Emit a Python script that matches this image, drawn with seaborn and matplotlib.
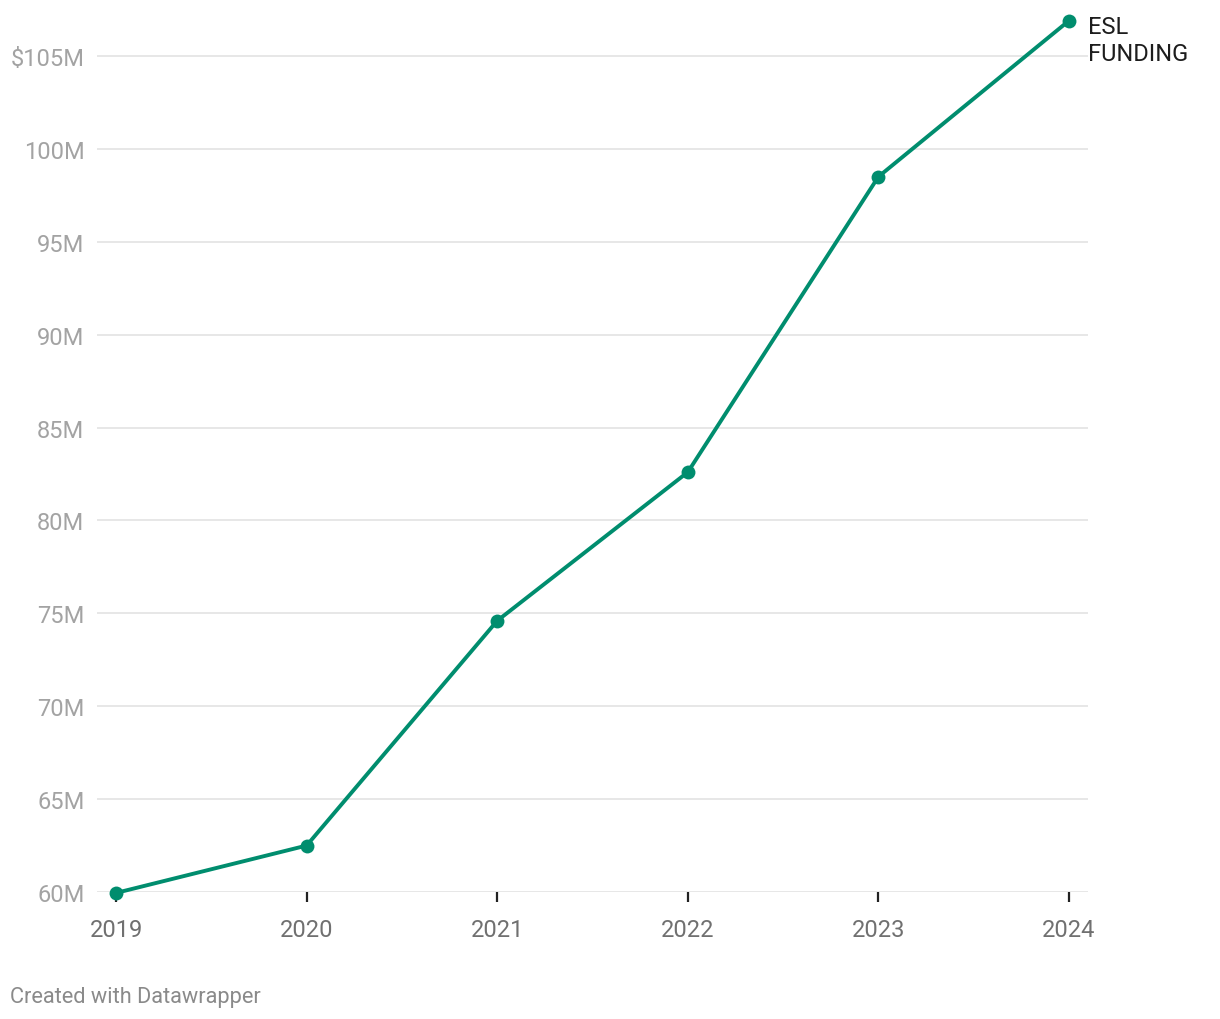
import numpy as np
import pandas as pd
import matplotlib
matplotlib.use("Agg")
import matplotlib.pyplot as plt
import seaborn as sns

years = [2019, 2020, 2021, 2022, 2023, 2024]
funding_m = [59.95, 62.5, 74.6, 82.6, 98.5, 106.9]
y_ticks = [60, 65, 70, 75, 80, 85, 90, 95, 100, 105]
y_tick_labels = ["60M", "65M", "70M", "75M", "80M", "85M", "90M", "95M", "100M", "$105M"]
series_label = "ESL\nFUNDING"

LINE_COLOR = "#008d6e"

sns.set_style("white")
plt.rcParams["font.family"] = ["Roboto", "DejaVu Sans"]

df = pd.DataFrame({"year": years, "funding": funding_m})

fig = plt.figure(figsize=(12.2, 10.2), dpi=100)
ax = fig.add_axes([97 / 1220, 1 - 893 / 1020, (1088 - 97) / 1220, (893 - 19.8) / 1020])

sns.lineplot(data=df, x="year", y="funding", ax=ax, color=LINE_COLOR,
             linewidth=2.8, marker="o", markersize=10,
             markeredgewidth=0, clip_on=False, zorder=5)

ax.set_xlim(2018.9, 2024.0997)
ax.set_ylim(60, 107)

for v in y_ticks:
    ax.axhline(v, color="#e3e3e3", linewidth=1.2, zorder=1)

ax.set_yticks(y_ticks)
ax.set_yticklabels(y_tick_labels)
ax.set_xticks(years)
ax.set_xticklabels([str(y) for y in years])
ax.tick_params(axis="y", left=False, length=0, pad=9, labelsize=17, labelcolor="#a3a3a3")
ax.tick_params(axis="x", bottom=True, length=7, width=1.6, color="#222222", pad=12,
               labelsize=17, labelcolor="#707070", direction="out")
ax.set_xlabel("")
ax.set_ylabel("")
for s in ax.spines.values():
    s.set_visible(False)

ax.text(2024.1, funding_m[-1] + 0.3, series_label, fontsize=17, color="#1d1d1d",
        va="top", ha="left", linespacing=1.2)

fig.text(10 / 1220, 1 - 998 / 1020, "Created with Datawrapper", fontsize=15.7,
         color="#8a8a8a", va="center", ha="left")

fig.savefig("out.png", dpi=100)
